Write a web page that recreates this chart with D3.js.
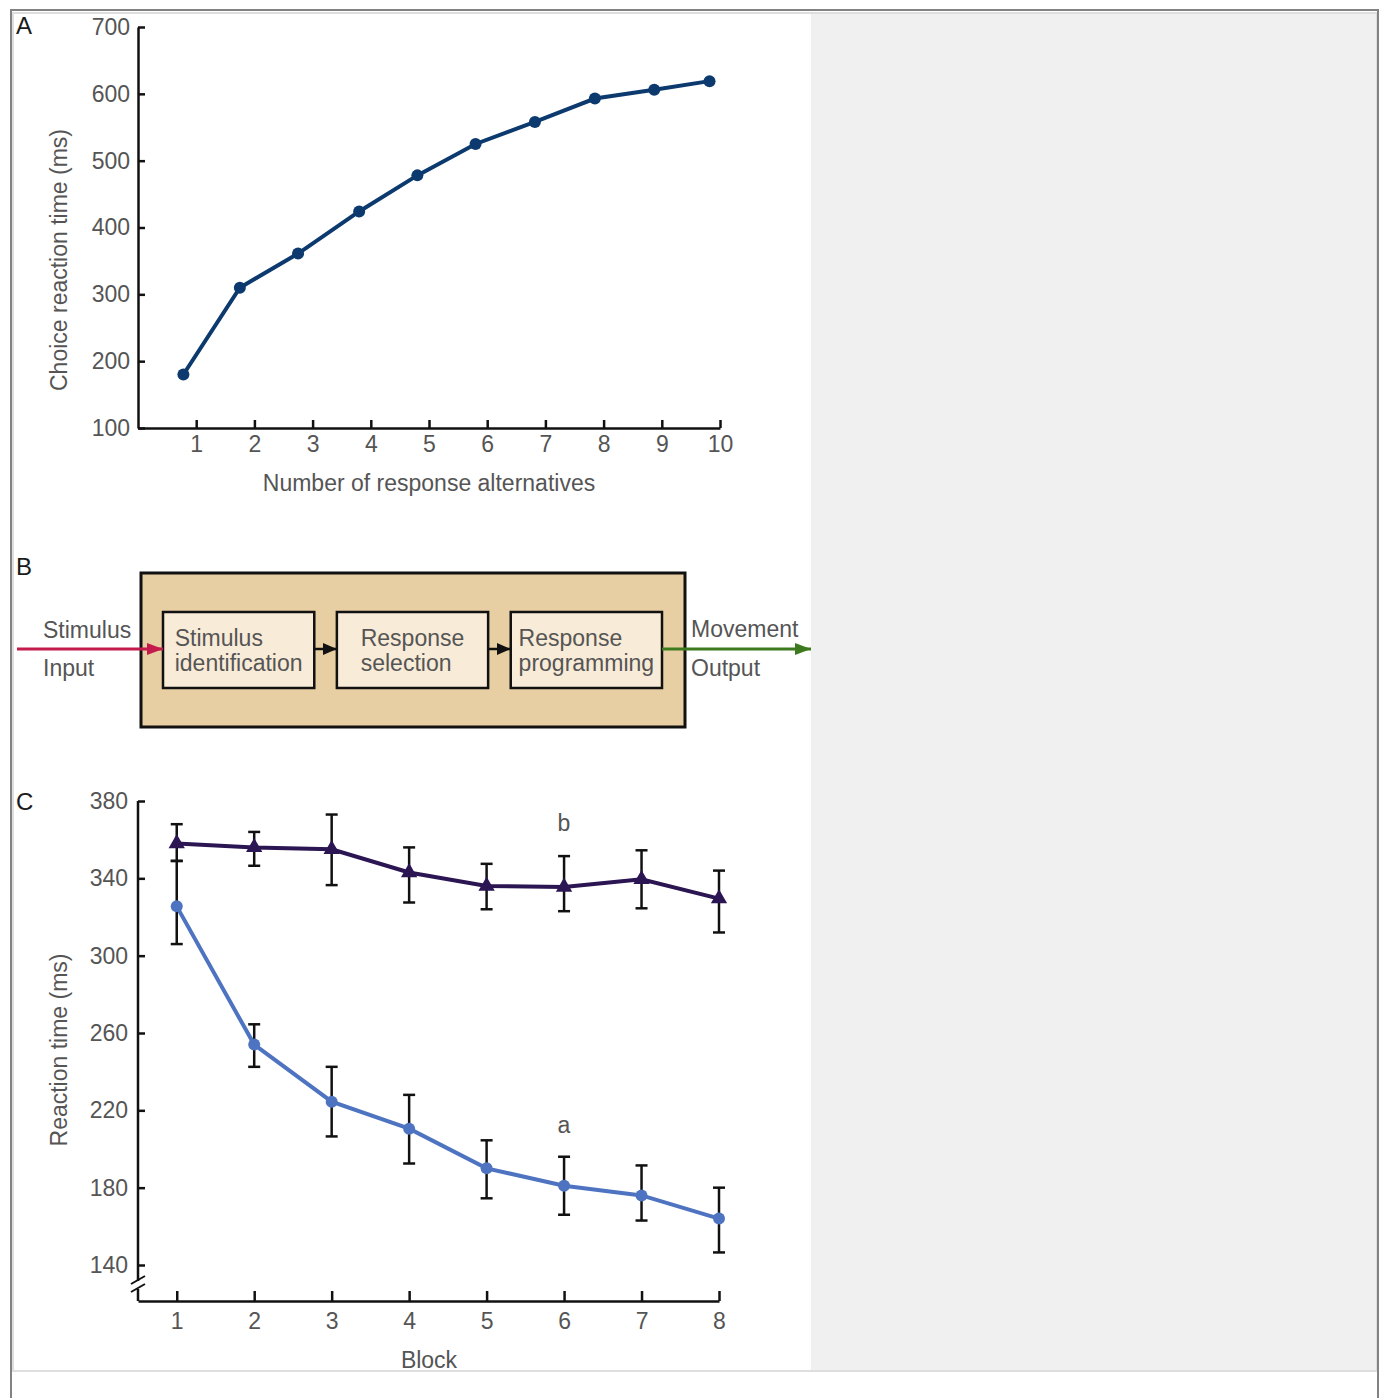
<!DOCTYPE html>
<html>
<head>
<meta charset="utf-8">
<script src="https://cdn.jsdelivr.net/npm/d3@7"></script>
<style>
  body { margin: 0; background: #fff; }
  svg text { font-family: "Liberation Sans", Arial, sans-serif; }
</style>
</head>
<body>
<div id="chart"></div>
<script>
const w = 1384;
const h = 1398;
const fontSize = 23;
const labelColor = "#555";

// panel A: choice reaction time vs number of alternatives
const altTicks = [1, 2, 3, 4, 5, 6, 7, 8, 9, 10];
const altX = [0.78, 1.75, 2.75, 3.8, 4.8, 5.8, 6.82, 7.85, 8.87, 9.82];
const choiceRT = [180, 310, 361, 424, 478, 525, 558, 593, 606, 619];
const rtTicksA = [100, 200, 300, 400, 500, 600, 700];

// panel B: stages of processing
const stageLines = [["Stimulus", "identification"], ["Response", "selection"], ["Response", "programming"]];

// panel C: reaction time per block, two conditions
const blocks = [1, 2, 3, 4, 5, 6, 7, 8];
const rtB = [358, 356, 355, 343, 336, 335.5, 339.5, 329.5];
const rtBHi = [368, 364, 373, 356, 347.5, 351.5, 354.5, 344];
const rtBLo = [349, 346.5, 336.5, 327.5, 324, 323, 324.5, 312];
const rtA = [325.5, 254, 224.5, 210.5, 190, 181, 176, 164];
const rtAHi = [349, 264.5, 242.5, 228, 204.5, 196, 191.5, 180];
const rtALo = [306, 242.5, 206.5, 192.5, 174.5, 166, 163, 146.5];
const rtTicksC = [140, 180, 220, 260, 300, 340, 380];

const svg = d3.select("#chart").append("svg").attr("width", w).attr("height", h);

// page frame
svg.append("rect").attr("x", 0).attr("y", 0).attr("width", w).attr("height", h).style("fill", "#fff");
svg.append("rect").attr("x", 811).attr("y", 14).attr("width", 565).attr("height", 1357).style("fill", "#f0f0f0");
svg.append("rect").attr("x", 13).attr("y", 13).attr("width", 1364).attr("height", 1358)
    .style("fill", "none").style("stroke", "#dedede").style("stroke-width", 2);
svg.append("path").attr("d", "M11,1398V10H1378V1398")
    .style("fill", "none").style("stroke", "#828282").style("stroke-width", 2);

function styleAxis(g) {
    g.selectAll("path, line").style("stroke", "#111").style("stroke-width", 2.5);
    g.selectAll("text").style("font-size", fontSize + "px").style("fill", labelColor)
        .style("font-family", "\"Liberation Sans\", Arial, sans-serif");
}

function panelLetter(x, y, t) {
    svg.append("text").attr("x", x).attr("y", y).text(t)
        .style("font-size", "24px").style("fill", "#1a1a1a");
}

// ---------- A ----------
const xA = d3.scaleLinear().domain([0, 10]).range([138, 720]);
const yA = d3.scaleLinear().domain([100, 700]).range([428, 27]);

svg.append("g").attr("transform", "translate(138,0)")
    .call(d3.axisLeft(yA).tickValues(rtTicksA).tickSizeInner(-7).tickSizeOuter(0).tickPadding(8))
    .call(styleAxis);
svg.append("g").attr("transform", "translate(0,428)")
    .call(d3.axisBottom(xA).tickValues(altTicks).tickSizeInner(-8).tickSizeOuter(0).tickPadding(8))
    .call(styleAxis);

const dataA = altX.map((x, i) => ({ x: x, y: choiceRT[i] }));
svg.append("path").datum(dataA)
    .attr("d", d3.line().x(d => xA(d.x)).y(d => yA(d.y)))
    .style("fill", "none").style("stroke", "#0c3a6e").style("stroke-width", 4);
svg.selectAll(".dotA").data(dataA).enter().append("circle")
    .attr("class", "dotA")
    .attr("cx", d => xA(d.x)).attr("cy", d => yA(d.y)).attr("r", 6)
    .style("fill", "#0c3a6e");

svg.append("text").attr("transform", "translate(67,260) rotate(-90)")
    .attr("text-anchor", "middle").text("Choice reaction time (ms)")
    .style("font-size", fontSize + "px").style("fill", labelColor);
svg.append("text").attr("x", 429).attr("y", 491).attr("text-anchor", "middle")
    .text("Number of response alternatives")
    .style("font-size", fontSize + "px").style("fill", labelColor);
panelLetter(16, 34, "A");

// ---------- B ----------
const defs = svg.append("defs");
function arrowMarker(id, color, len, half) {
    defs.append("marker").attr("id", id)
        .attr("markerUnits", "userSpaceOnUse")
        .attr("viewBox", `0 ${-half} ${len} ${half * 2}`)
        .attr("refX", len).attr("refY", 0)
        .attr("markerWidth", len).attr("markerHeight", half * 2)
        .attr("orient", "auto")
        .append("path").attr("d", `M0,${-half}L${len},0L0,${half}Z`).style("fill", color);
}
arrowMarker("arRed", "#c41a4c", 16, 6);
arrowMarker("arGreen", "#3d7a1e", 16, 6);
arrowMarker("arBlack", "#111", 14, 6);

svg.append("rect").attr("x", 141).attr("y", 573).attr("width", 544).attr("height", 154)
    .style("fill", "#e8cea3").style("stroke", "#111").style("stroke-width", 3);

const xB = d3.scaleBand().domain(d3.range(stageLines.length)).range([163, 662]).paddingInner(0.13);
const boxTop = 612, boxH = 76, midY = 649;

const stages = svg.selectAll(".stage").data(stageLines).enter().append("g").attr("class", "stage");
stages.append("rect")
    .attr("x", (d, i) => xB(i)).attr("y", boxTop)
    .attr("width", xB.bandwidth()).attr("height", boxH)
    .style("fill", "#f8ebd7").style("stroke", "#111").style("stroke-width", 2.5);
stages.each(function (d, i) {
    const t = d3.select(this).append("text").style("font-size", fontSize + "px").style("fill", labelColor);
    d.forEach((line, k) => {
        t.append("tspan").attr("x", 0).attr("y", 646 + k * 25).text(line);
    });
    let maxLen = d3.max(t.selectAll("tspan").nodes(), n => n.getComputedTextLength());
    t.attr("transform", `translate(${xB(i) + (xB.bandwidth() - maxLen) / 2},0)`);
});

// arrows between stages
d3.range(stageLines.length - 1).forEach(i => {
    svg.append("line")
        .attr("x1", xB(i) + xB.bandwidth()).attr("x2", xB(i + 1))
        .attr("y1", midY).attr("y2", midY)
        .style("stroke", "#111").style("stroke-width", 2.5).attr("marker-end", "url(#arBlack)");
});
svg.append("line").attr("x1", 17).attr("x2", xB(0)).attr("y1", midY).attr("y2", midY)
    .style("stroke", "#c41a4c").style("stroke-width", 3).attr("marker-end", "url(#arRed)");
const lastRight = xB(stageLines.length - 1) + xB.bandwidth();
svg.append("line").attr("x1", lastRight).attr("x2", 811).attr("y1", midY).attr("y2", midY)
    .style("stroke", "#3d7a1e").style("stroke-width", 3).attr("marker-end", "url(#arGreen)");

[["Stimulus", 43, 638], ["Input", 43, 676], ["Movement", 691, 637], ["Output", 691, 676]].forEach(t => {
    svg.append("text").attr("x", t[1]).attr("y", t[2]).text(t[0])
        .style("font-size", fontSize + "px").style("fill", labelColor);
});
panelLetter(16, 575, "B");

// ---------- C ----------
const xC = d3.scaleLinear().domain([0.5, 8]).range([138, 719]);
const yC = d3.scaleLinear().domain([140, 380]).range([1265, 801]);
const axisYC = 1301;

const gy = svg.append("g").attr("transform", "translate(138,0)")
    .call(d3.axisLeft(yC).tickValues(rtTicksC).tickSizeInner(-7).tickSizeOuter(0).tickPadding(10))
    .call(styleAxis);
gy.select(".domain").remove();
// broken y axis
svg.append("path").attr("d", `M138,${yC(380)}V1281M138,1289V${axisYC}`)
    .style("fill", "none").style("stroke", "#111").style("stroke-width", 2.5);
svg.append("path").attr("d", "M131,1284L145,1276M131,1292L145,1284")
    .style("fill", "none").style("stroke", "#111").style("stroke-width", 2);

svg.append("g").attr("transform", `translate(0,${axisYC})`)
    .call(d3.axisBottom(xC).tickValues(blocks).tickSizeInner(-10).tickSizeOuter(0).tickPadding(12))
    .call(styleAxis);

const dataB = blocks.map((b, i) => ({ x: b, y: rtB[i], hi: rtBHi[i], lo: rtBLo[i] }));
const dataA2 = blocks.map((b, i) => ({ x: b, y: rtA[i], hi: rtAHi[i], lo: rtALo[i] }));
const lineC = d3.line().x(d => xC(d.x)).y(d => yC(d.y));
const colB = "#2b1552", colA = "#4e74c1";

svg.append("path").datum(dataB).attr("d", lineC)
    .style("fill", "none").style("stroke", colB).style("stroke-width", 4);
svg.append("path").datum(dataA2).attr("d", lineC)
    .style("fill", "none").style("stroke", colA).style("stroke-width", 4);

function errorBars(data, cls) {
    const g = svg.selectAll("." + cls).data(data).enter().append("g").attr("class", cls)
        .style("stroke", "#111").style("stroke-width", 2.5);
    g.append("line").attr("x1", d => xC(d.x)).attr("x2", d => xC(d.x))
        .attr("y1", d => yC(d.hi)).attr("y2", d => yC(d.lo));
    g.append("line").attr("x1", d => xC(d.x) - 6).attr("x2", d => xC(d.x) + 6)
        .attr("y1", d => yC(d.hi)).attr("y2", d => yC(d.hi));
    g.append("line").attr("x1", d => xC(d.x) - 6).attr("x2", d => xC(d.x) + 6)
        .attr("y1", d => yC(d.lo)).attr("y2", d => yC(d.lo));
}
errorBars(dataB, "errB");
errorBars(dataA2, "errA");

svg.selectAll(".triB").data(dataB).enter().append("path").attr("class", "triB")
    .attr("transform", d => `translate(${xC(d.x)},${yC(d.y)})`)
    .attr("d", d3.symbol(d3.symbolTriangle, 115))
    .style("fill", colB);
svg.selectAll(".dotC").data(dataA2).enter().append("circle").attr("class", "dotC")
    .attr("cx", d => xC(d.x)).attr("cy", d => yC(d.y)).attr("r", 6)
    .style("fill", colA);

svg.append("text").attr("x", 564).attr("y", 831).attr("text-anchor", "middle").text("b")
    .style("font-size", fontSize + "px").style("fill", labelColor);
svg.append("text").attr("x", 564).attr("y", 1133).attr("text-anchor", "middle").text("a")
    .style("font-size", fontSize + "px").style("fill", labelColor);

svg.append("text").attr("transform", "translate(67,1050) rotate(-90)")
    .attr("text-anchor", "middle").text("Reaction time (ms)")
    .style("font-size", fontSize + "px").style("fill", labelColor);
svg.append("text").attr("x", 429).attr("y", 1368).attr("text-anchor", "middle").text("Block")
    .style("font-size", fontSize + "px").style("fill", labelColor);
panelLetter(16, 810, "C");
</script>
</body>
</html>
